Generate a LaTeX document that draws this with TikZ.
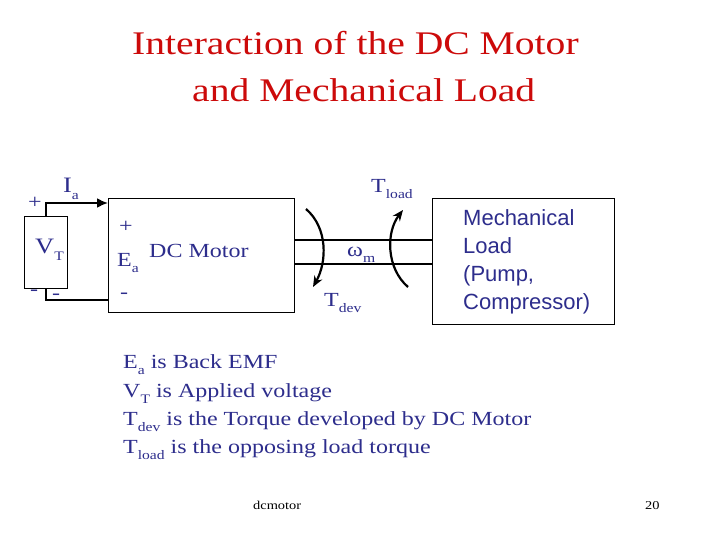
\documentclass[tikz,border=0pt]{standalone}
\usepackage{fontspec}
\setmainfont{Liberation Serif}[FakeStretch=1.2]
\newfontfamily\arialf{Liberation Sans}
\usetikzlibrary{arrows.meta}
\definecolor{ttl}{RGB}{204,10,10}
\definecolor{txt}{RGB}{45,45,140}
\newcommand\fsz[1]{\fontsize{#1}{#1}\selectfont}
\newcommand\lowsub[1]{\raisebox{-0.3em}{\fontsize{13}{13}\selectfont #1}}
\begin{document}
\begin{tikzpicture}[x=1pt,y=-1pt,
  box/.style={draw,line width=1.1pt,inner sep=0pt,anchor=north west},
  lbl/.style={text=txt,inner sep=0pt,anchor=base west},
  sgn/.style={text=txt,inner sep=0pt,anchor=center},
  wire/.style={line width=2pt},
  torq/.style={line width=2.2pt,-{Stealth[length=11pt,width=9pt]}}]
\useasboundingbox[fill=white] (0,0) rectangle (720,540);
% title
\node[lbl,text=ttl,font=\fsz{33}] (t1) at (132,55) {Interaction of the DC Motor};
\node[lbl,text=ttl,font=\fsz{33}] (t2) at (192,102) {and Mechanical Load};
% boxes
\node[box,minimum width=43pt,minimum height=72pt] (vt) at (24,216) {};
\node[box,minimum width=186pt,minimum height=114pt] (motor) at (108,198) {};
\node[box,minimum width=182pt,minimum height=126pt] (load) at (432,198) {};
% wires
\coordinate (a1) at (108,203);
\coordinate (a2) at (108,300);
\draw[wire,-{Latex[length=11pt,width=10pt]}] (vt.north) |- (a1);
\draw[wire] (vt.south) |- (a2);
% shaft
\coordinate (s1) at (294,240);
\coordinate (s2) at (432,240);
\coordinate (s3) at (294,264);
\coordinate (s4) at (432,264);
\draw[line width=1.1pt] (s1) -- (s2);
\draw[line width=1.1pt] (s3) -- (s4);
% torque arrows
\coordinate (d1) at (306,209);
\coordinate (d2) at (313,287);
\coordinate (l1) at (408,287);
\coordinate (l2) at (403,210);
\draw[torq] (d1) .. controls (328,228) and (327,262) .. (d2);
\draw[torq] (l1) .. controls (386,268) and (386,232) .. (l2);
% source labels
\node[sgn,font=\fsz{20}] (vp) at (35,203) {+};
\node[sgn,font=\fsz{20}] (vm) at (34,293) {-};
\node[sgn,font=\fsz{20}] (vm2) at (56,297) {-};
\node[lbl,font=\fsz{22}] (ia) at (63,193) {I\lowsub{a}};
\node[lbl,font=\fsz{22}] (vtl) at (35,254) {V\lowsub{T}};
% motor labels
\node[sgn,font=\fsz{20}] (mp) at (126,227) {+};
\node[lbl,font=\fsz{20}] (ea) at (117,266) {E\lowsub{a}};
\node[lbl,font=\fsz{20}] (dcm) at (149,257) {DC Motor};
\node[sgn,font=\fsz{20}] (mm) at (124,296) {-};
\node[lbl,font=\fsz{20}] (wm) at (347,256) {ω\lowsub{m}};
\node[lbl,font=\fsz{20}] (td) at (324,306) {T\lowsub{dev}};
\node[lbl,font=\fsz{20}] (tl) at (371,193) {T\lowsub{load}};
% load text
\node[text=txt,inner sep=0pt,anchor=north west,font=\arialf\fontsize{22}{28}\selectfont,align=left] (lt) at (463,209)
  {Mechanical\\Load\\(Pump,\\Compressor)};
% body text
\node[lbl,font=\fsz{20}] (b1) at (123,368) {E\lowsub{a} is Back EMF};
\node[lbl,font=\fsz{20}] (b2) at (123,397) {V\lowsub{T} is Applied voltage};
\node[lbl,font=\fsz{20}] (b3) at (123,425) {T\lowsub{dev} is the Torque developed by DC Motor};
\node[lbl,font=\fsz{20}] (b4) at (123,453) {T\lowsub{load} is the opposing load torque};
% footer
\node[lbl,text=black,font=\fsz{12}] (f1) at (253,509) {dcmotor};
\node[lbl,text=black,font=\fsz{12}] (f2) at (645,509) {20};
\end{tikzpicture}
\end{document}
